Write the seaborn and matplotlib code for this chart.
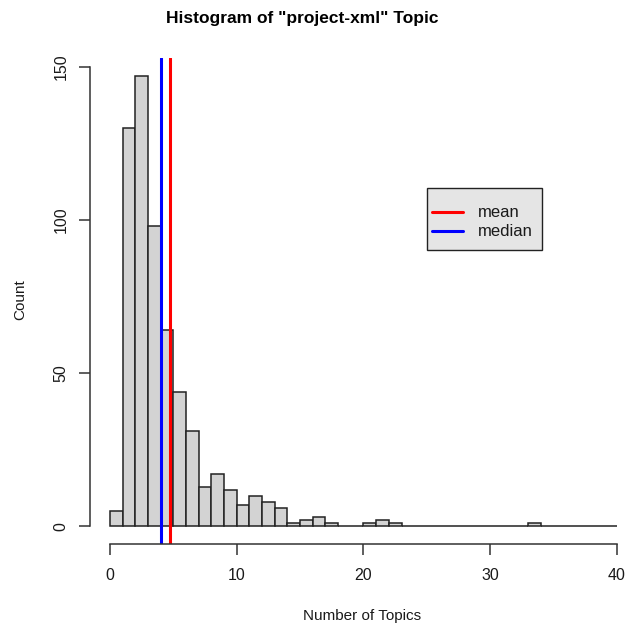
import numpy as np
import pandas as pd
import matplotlib
matplotlib.use("Agg")
import matplotlib.pyplot as plt
import seaborn as sns
from matplotlib.lines import Line2D
from matplotlib.patches import Rectangle

# ---- data ----
bin_edges = list(range(0, 41))
bin_counts = [5, 130, 147, 98, 64, 44, 31, 13, 17, 12,
              7, 10, 8, 6, 1, 2, 3, 1, 0, 0,
              1, 2, 1, 0, 0, 0, 0, 0, 0, 0,
              0, 0, 0, 1, 0, 0, 0, 0, 0, 0]
mean_val = 4.73
median_val = 4.0
x_ticks = [0, 10, 20, 30, 40]
y_ticks = [0, 50, 100, 150]
title = 'Histogram of "project-xml" Topic'
xlabel = "Number of Topics"
ylabel = "Count"
legend_labels = ["mean", "median"]
legend_colors = ["#FF0000", "#0000FF"]

sns.set_style("white")
plt.rcParams['font.family'] = ['Liberation Sans', 'DejaVu Sans']

W, H = 628, 627
fig = plt.figure(figsize=(W / 100, H / 100), dpi=100)
left_px, right_px, top_px, bot_px = 89.7, 637.3, 58.2, 544.4
ax = fig.add_axes([left_px / W, 1 - bot_px / H, (right_px - left_px) / W, (bot_px - top_px) / H])

centers = [(bin_edges[i] + bin_edges[i + 1]) / 2 for i in range(len(bin_counts))]
df = pd.DataFrame({"x": centers, "w": bin_counts})
sns.histplot(data=df, x="x", weights="w", bins=bin_edges, ax=ax,
             color="#D3D3D3", edgecolor="#222222", linewidth=1.1, alpha=1)

ax.axvline(median_val, color="#0000FF", lw=2.2)
ax.axvline(mean_val, color="#FF0000", lw=2.2)

ax.set_xlim(-1.6, 41.6)
ax.set_ylim(-0.04 * 147, 147 * 1.04)

for s in ["top", "right"]:
    ax.spines[s].set_visible(False)
ax.spines["left"].set_bounds(0, 150)
ax.spines["bottom"].set_bounds(0, 40)
for s in ["left", "bottom"]:
    ax.spines[s].set_color("#333333")
    ax.spines[s].set_linewidth(1.1)

ax.set_xticks(x_ticks)
ax.set_yticks(y_ticks)
ax.set_xticklabels([str(v) for v in x_ticks])
ax.set_yticklabels([str(v) for v in y_ticks], rotation=90, va="center")
ax.tick_params(axis="both", length=8, width=1.1, color="#333333", labelsize=11.5,
               labelcolor="#1a1a1a", direction="out", bottom=True, left=True)
ax.tick_params(axis="x", pad=9)
ax.tick_params(axis="y", pad=7)
ax.set_xlabel("")
ax.set_ylabel("")

fig.text(302 / W, 1 - 18 / H, title, ha="center", va="center",
         fontsize=12.5, fontweight="bold", color="#000000")
fig.text(362 / W, 1 - 616 / H, xlabel, ha="center", va="center", fontsize=11, color="#1a1a1a")
fig.text(20 / W, 1 - 300 / H, ylabel, ha="center", va="center", rotation=90,
         fontsize=11, color="#1a1a1a")

# legend drawn manually (R-style box)
bx0, by0, bx1, by1 = 427, 188, 542, 250
fig.patches.append(Rectangle((bx0 / W, 1 - by1 / H), (bx1 - bx0) / W, (by1 - by0) / H,
                             transform=fig.transFigure, facecolor="#E5E5E5",
                             edgecolor="#222222", linewidth=1.0, zorder=5))
for i, (lab, col) in enumerate(zip(legend_labels, legend_colors)):
    yy = 1 - (212 + 19 * i) / H
    fig.lines.append(Line2D([432 / W, 463 / W], [yy, yy], transform=fig.transFigure,
                            color=col, lw=2.2, zorder=6))
    fig.text(478 / W, yy, lab, ha="left", va="center", fontsize=12,
             color="#1a1a1a", zorder=7)

fig.savefig("out.png", dpi=100)
